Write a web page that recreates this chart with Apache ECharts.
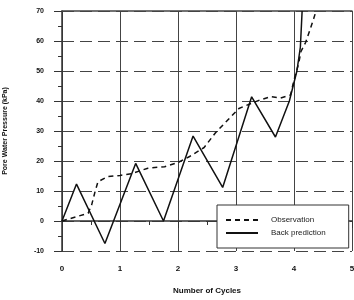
<!DOCTYPE html>
<html><head><meta charset="utf-8">
<script src="https://cdn.jsdelivr.net/npm/echarts@6/dist/echarts.min.js"></script>
<style>html,body{margin:0;padding:0;background:#fff}#c{width:354px;height:300px}</style>
</head><body><div id="c"></div>
<script>
var obsX = [0, 0.45, 0.51, 0.57, 0.62, 0.79, 1.0, 1.2, 1.48, 1.77, 2.0, 2.2, 2.45, 2.65, 2.85, 3.05, 3.34, 3.6, 3.77, 3.94, 4.0, 4.08, 4.12, 4.2, 4.28, 4.34, 4.38];
var obsY = [0, 2.6, 5.3, 9.8, 13.1, 14.8, 15.2, 15.8, 17.6, 18.1, 19.5, 21.5, 24.5, 29.5, 33.5, 37.5, 39.8, 41.5, 41, 42, 47, 52.5, 56.5, 59.5, 64, 67.5, 70];
var bpX = [0, 0.25, 0.74, 1.27, 1.75, 2.26, 2.77, 3.27, 3.68, 3.92, 4.05, 4.11, 4.14];
var bpY = [0, 12.3, -7.5, 19.2, 0, 28.3, 11.2, 41.4, 28, 40, 50, 58, 70];
var xTicks = [0, 1, 2, 3, 4, 5];
var yTicks = [-10, 0, 10, 20, 30, 40, 50, 60, 70];
function zip(a, b) { return a.map(function (v, i) { return [v, b[i]]; }); }
var font = 'Liberation Sans';
var chart = echarts.init(document.getElementById('c'), null, {renderer: 'canvas'});
chart.setOption({
  animation: false,
  grid: {left: 62, right: 2, top: 11, bottom: 49, containLabel: false, outerBoundsMode: 'none'},
  legend: {
    left: 217, top: 205,
    orient: 'vertical', itemWidth: 32, itemHeight: 8, itemGap: 5,
    padding: [11, 23, 11, 8],
    borderColor: '#333', borderWidth: 1, backgroundColor: '#fff',
    itemStyle: {opacity: 0},
    textStyle: {fontFamily: font, fontSize: 8, color: '#222', padding: [0, 0, 0, 8]},
    data: ['Observation', 'Back prediction']
  },
  xAxis: [{
    type: 'value', min: xTicks[0], max: xTicks[xTicks.length - 1], interval: 1,
    name: 'Number of Cycles', nameLocation: 'middle', nameGap: 36,
    nameTextStyle: {fontFamily: font, fontSize: 8, fontWeight: 'bold', color: '#111'},
    axisLine: {lineStyle: {color: '#333', width: 1.5}},
    axisTick: {inside: false, length: 7, lineStyle: {color: '#333'}},
    minorTick: {show: true, splitNumber: 2, length: 4, lineStyle: {color: '#333'}},
    axisLabel: {fontFamily: font, fontSize: 8, fontWeight: 'bold', color: '#111', margin: 14},
    splitLine: {show: true, lineStyle: {color: '#444', width: 1, type: 'solid'}}
  }, {
    type: 'value', position: 'top', min: 0, max: 5,
    axisLine: {show: true, lineStyle: {color: '#444', width: 1.5}},
    axisTick: {show: false}, axisLabel: {show: false}, splitLine: {show: false}
  }],
  yAxis: {
    type: 'value', min: yTicks[0], max: yTicks[yTicks.length - 1], interval: 10,
    name: 'Pore Water Pressure (kPa)', nameLocation: 'middle', nameGap: 53,
    nameTextStyle: {fontFamily: font, fontSize: 7, fontWeight: 'bold', color: '#111'},
    axisLine: {show: true, lineStyle: {color: '#333', width: 1.5}},
    axisTick: {length: 8, lineStyle: {color: '#333'}},
    minorTick: {show: true, splitNumber: 2, length: 4, lineStyle: {color: '#333'}},
    axisLabel: {fontFamily: font, fontSize: 7, fontWeight: 'bold', color: '#111', margin: 18},
    splitLine: {show: true, lineStyle: {color: '#444', width: 1, type: [12, 6]}}
  },
  series: [{
    name: 'Observation', type: 'line', data: zip(obsX, obsY), symbol: 'none',
    lineStyle: {color: '#111', width: 1.5, type: [5, 4]}, itemStyle: {color: '#111'}
  }, {
    name: 'Back prediction', type: 'line', data: zip(bpX, bpY), symbol: 'none',
    lineStyle: {color: '#111', width: 1.5, type: 'solid'}, itemStyle: {color: '#111'}
  }]
});
</script></body></html>
